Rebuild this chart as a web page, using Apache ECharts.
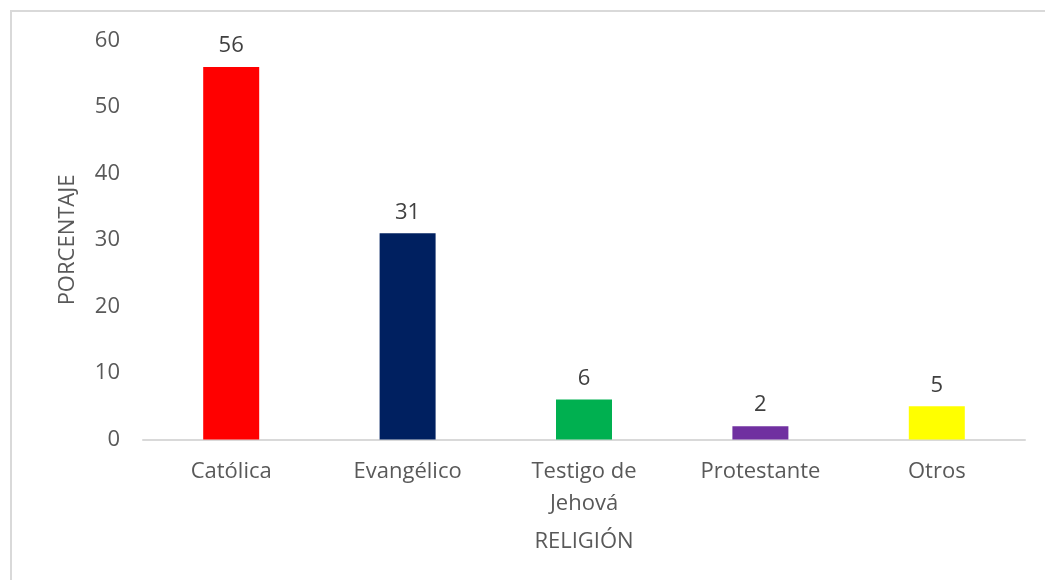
<!DOCTYPE html>
<html>
<head>
<meta charset="utf-8">
<script src="https://cdn.jsdelivr.net/npm/echarts@6/dist/echarts.min.js"></script>
<style>
  html, body { margin: 0; padding: 0; background: #ffffff; }
  #chart { width: 1045px; height: 580px; }
</style>
</head>
<body>
<div id="chart"></div>
<script>
// Religious affiliation, percentage of respondents
const categories = ['Católica', 'Evangélico', 'Testigo de\nJehová', 'Protestante', 'Otros'];
const percentages = [56, 31, 6, 2, 5];
const barColors = ['#FF0000', '#002060', '#00B050', '#7030A0', '#FFFF00'];
const yTicks = { min: 0, max: 60, interval: 10 };

const FONT = '"Open Sans", Lato, sans-serif';
const FS = 22;

const chart = echarts.init(document.getElementById('chart'), null, { renderer: 'canvas' });

chart.setOption({
  backgroundColor: '#ffffff',
  animation: false,
  graphic: [{
    type: 'polyline',
    shape: { points: [[11, 580], [11, 11], [1045, 11]] },
    style: { stroke: '#d9d9d9', lineWidth: 2, fill: null }
  }],
  grid: { left: 143, right: 20, top: 40.5, bottom: 140.5, containLabel: false },
  xAxis: {
    type: 'category',
    data: categories,
    name: 'RELIGIÓN',
    nameLocation: 'middle',
    nameGap: 91,
    nameTextStyle: { color: '#595959', fontSize: FS, fontFamily: FONT },
    axisLine: { show: true, lineStyle: { color: '#d9d9d9', width: 2 } },
    axisTick: { show: false },
    axisLabel: {
      color: '#595959', fontSize: FS, fontFamily: FONT,
      margin: 16, lineHeight: 32, interval: 0
    }
  },
  yAxis: {
    type: 'value',
    min: yTicks.min,
    max: yTicks.max,
    interval: yTicks.interval,
    name: 'PORCENTAJE',
    nameLocation: 'middle',
    nameGap: 64,
    nameRotate: 90,
    nameTextStyle: { color: '#595959', fontSize: FS, fontFamily: FONT },
    axisLine: { show: false },
    axisTick: { show: false },
    splitLine: { show: false },
    axisLabel: { color: '#595959', fontSize: FS, fontFamily: FONT, margin: 23 }
  },
  series: [{
    type: 'bar',
    data: percentages.map((v, i) => ({ value: v, itemStyle: { color: barColors[i] } })),
    barWidth: 56,
    label: {
      show: true,
      position: 'top',
      distance: 10,
      color: '#404040',
      fontSize: FS,
      fontFamily: FONT
    }
  }]
});
</script>
</body>
</html>
